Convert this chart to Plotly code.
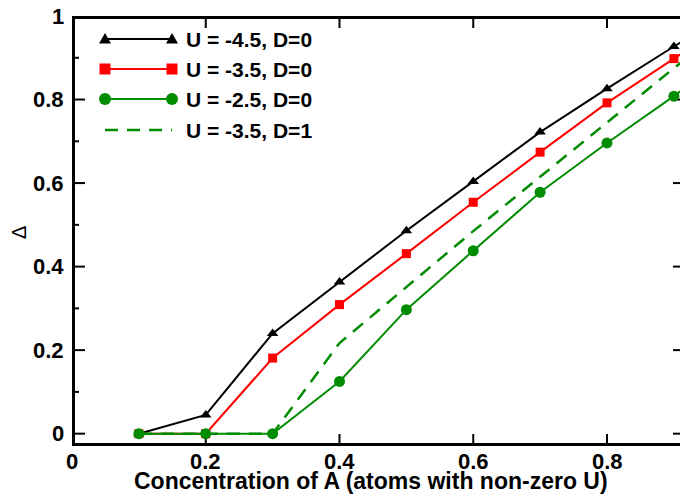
import plotly.graph_objects as go

# ---------------- data ----------------
conc = [0.1, 0.2, 0.3, 0.4, 0.5, 0.6, 0.7, 0.8, 0.9, 1.0]
delta_u45_d0 = [0.0, 0.045, 0.240, 0.363, 0.486, 0.604, 0.722, 0.826, 0.927, 1.02]
delta_u35_d0 = [0.0, 0.0, 0.181, 0.309, 0.431, 0.554, 0.674, 0.792, 0.898, 1.0]
delta_u25_d0 = [0.0, 0.0, 0.0, 0.125, 0.297, 0.438, 0.578, 0.696, 0.808, 0.93]
delta_u35_d1 = [0.0, 0.0, 0.0, 0.217, 0.350, 0.485, 0.615, 0.745, 0.875, 1.0]

labels = ["U = -4.5, D=0", "U = -3.5, D=0", "U = -2.5, D=0", "U = -3.5, D=1"]
colors = ["black", "#ff0000", "#008c00", "#008c00"]
x_tick_vals = [0, 0.2, 0.4, 0.6, 0.8]
x_tick_text = ["0", "0.2", "0.4", "0.6", "0.8"]
y_tick_vals = [0, 0.2, 0.4, 0.6, 0.8, 1]
y_tick_text = ["0", "0.2", "0.4", "0.6", "0.8", "1"]
y_minor_vals = [0.1, 0.3, 0.5, 0.7, 0.9]
x_title = "Concentration of A (atoms with non-zero U)"
y_title = "Δ"

W, H = 680, 497
ML, MR, MT, MB = 72, 0, 16, 51
PW, PH = W - ML - MR, H - MT - MB

X_SCALE = 668.75           # px per unit of concentration
Y_MIN, Y_MAX = -0.0295, 1.0
Y_SCALE = PH / (Y_MAX - Y_MIN)
X_MIN, X_MAX = 0.0, PW / X_SCALE

def xp(px):
    return (px - ML) / PW

def yp(py):
    return (MT + PH - py) / PH

def dx(px):
    return px / X_SCALE

def dy(px):
    return px / Y_SCALE

FONT = "Liberation Sans"

fig = go.Figure()

# ---------------- frame and ticks: one line trace per segment ----------------
def seg(x0, x1, y0, y1, w):
    fig.add_trace(go.Scatter(x=[x0, x1], y=[y0, y1], mode="lines",
                             line=dict(color="#000000", width=w),
                             hoverinfo="skip", showlegend=False))

seg(X_MIN + dx(1.5), X_MIN + dx(1.5), Y_MIN, Y_MAX, 3)           # left axis
seg(X_MIN, X_MAX, Y_MIN + dy(1.5), Y_MIN + dy(1.5), 3)           # bottom axis
seg(X_MIN, X_MAX, Y_MAX - dy(1.5), Y_MAX - dy(1.5), 3)           # top axis
for v in x_tick_vals[1:]:
    seg(v, v, Y_MIN, Y_MIN + dy(12), 2)
    seg(v, v, Y_MAX, Y_MAX - dy(12), 2)
for v in y_tick_vals:
    seg(X_MIN, X_MIN + dx(13), v, v, 2)
    seg(X_MAX - dx(7), X_MAX, v, v, 2)
for v in y_minor_vals:
    seg(X_MIN, X_MIN + dx(7), v, v, 2)

# ---------------- data series ----------------
fig.add_trace(go.Scatter(x=conc, y=delta_u45_d0, mode="lines+markers", name=labels[0],
                         line=dict(color=colors[0], width=2),
                         marker=dict(symbol="triangle-up", size=10, color=colors[0])))
fig.add_trace(go.Scatter(x=conc, y=delta_u35_d0, mode="lines+markers", name=labels[1],
                         line=dict(color=colors[1], width=2),
                         marker=dict(symbol="square", size=9, color=colors[1])))
fig.add_trace(go.Scatter(x=conc, y=delta_u25_d0, mode="lines+markers", name=labels[2],
                         line=dict(color=colors[2], width=2),
                         marker=dict(symbol="circle", size=11, color=colors[2])))
fig.add_trace(go.Scatter(x=conc, y=delta_u35_d1, mode="lines", name=labels[3],
                         line=dict(color=colors[3], width=2.5, dash="13px,9px")))

shapes = []
annotations = []

for v, t in zip(x_tick_vals, x_tick_text):
    annotations.append(dict(x=v, xref="x", y=yp(462), yref="paper", text="<b>%s</b>" % t,
                            showarrow=False, xanchor="center", yanchor="middle",
                            font=dict(family=FONT, size=22, color="black")))
for v, t in zip(y_tick_vals, y_tick_text):
    annotations.append(dict(x=xp(66), xref="paper", y=v, yref="y", text="<b>%s</b>" % t,
                            showarrow=False, xanchor="right", yanchor="middle",
                            font=dict(family=FONT, size=22, color="black")))

# ---------------- legend (drawn manually, xmgrace style) ----------------
rows_y = [39, 69, 99, 130]
kx1, kx2, tx = 105, 172, 184
for i, (lab, col, ry) in enumerate(zip(labels, colors, rows_y)):
    shapes.append(dict(type="line", xref="paper", yref="paper",
                       x0=xp(kx1), x1=xp(kx2), y0=yp(ry), y1=yp(ry),
                       line=dict(color=col, width=2 if i < 3 else 2.5,
                                 dash="solid" if i < 3 else "13px,9px")))
    for cx in (kx1, kx2):
        if i == 0:
            path = "M {:.5f} {:.5f} L {:.5f} {:.5f} L {:.5f} {:.5f} Z".format(
                xp(cx - 6), yp(ry + 4.5), xp(cx + 6), yp(ry + 4.5), xp(cx), yp(ry - 6))
            shapes.append(dict(type="path", xref="paper", yref="paper", path=path,
                               fillcolor=col, line=dict(color=col, width=0)))
        elif i == 1:
            shapes.append(dict(type="rect", xref="paper", yref="paper",
                               x0=xp(cx - 5.5), x1=xp(cx + 5.5), y0=yp(ry + 5.5), y1=yp(ry - 5.5),
                               fillcolor=col, line=dict(color=col, width=0)))
        elif i == 2:
            shapes.append(dict(type="circle", xref="paper", yref="paper",
                               x0=xp(cx - 6), x1=xp(cx + 6), y0=yp(ry + 6), y1=yp(ry - 6),
                               fillcolor=col, line=dict(color=col, width=0)))
    annotations.append(dict(x=xp(tx), y=yp(ry), xref="paper", yref="paper",
                            text="<b>%s</b>" % lab, showarrow=False,
                            xanchor="left", yanchor="middle",
                            font=dict(family=FONT, size=21, color="black")))

# axis titles
annotations.append(dict(x=xp(19), y=yp(233), xref="paper", yref="paper",
                        text=y_title, textangle=-90, showarrow=False,
                        xanchor="center", yanchor="middle",
                        font=dict(family=FONT, size=20, color="black")))
annotations.append(dict(x=xp(371), y=yp(481), xref="paper", yref="paper",
                        text="<b>%s</b>" % x_title, showarrow=False,
                        xanchor="center", yanchor="middle",
                        font=dict(family=FONT, size=23, color="black")))

fig.update_layout(
    template="none",
    width=W, height=H,
    margin=dict(l=ML, r=MR, t=MT, b=MB),
    paper_bgcolor="white", plot_bgcolor="white",
    showlegend=False,
    shapes=shapes, annotations=annotations,
)
fig.update_xaxes(range=[X_MIN, X_MAX], showgrid=False, zeroline=False,
                 showline=False, ticks="", showticklabels=False)
fig.update_yaxes(range=[Y_MIN, Y_MAX], showgrid=False, zeroline=False,
                 showline=False, ticks="", showticklabels=False)

fig.write_html("out.html")
